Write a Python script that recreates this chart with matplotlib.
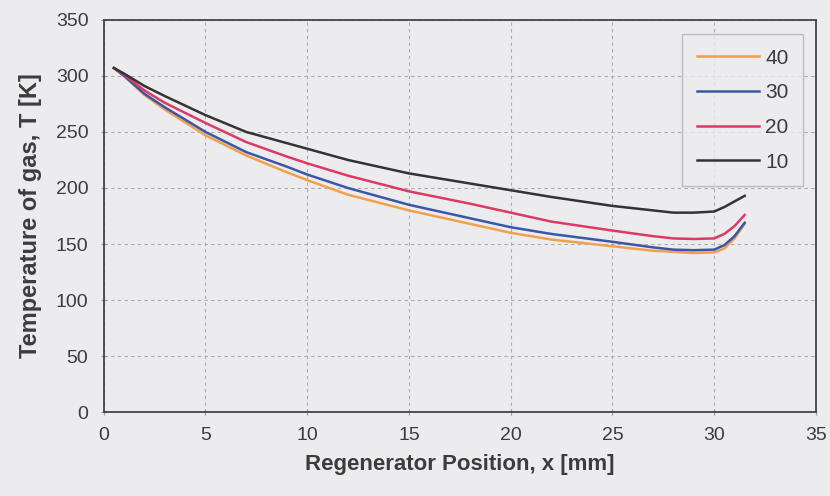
import matplotlib.pyplot as plt

# data
x_pos = [0.5, 1, 2, 3, 5, 7, 9, 10, 12, 15, 18, 20, 22, 25, 27, 28, 29, 30, 30.5, 31, 31.5]
t_40 = [307, 300, 283, 270, 247, 229, 214, 207, 194, 180, 168, 160, 154, 148, 144, 143, 142, 142.5, 146, 155, 168]
t_30 = [307, 300, 284, 272, 250, 232, 219, 212, 200, 185, 173, 165, 159, 152, 147, 145, 144.5, 145, 149, 157, 169]
t_20 = [307, 301, 287, 276, 258, 241, 228, 222, 211, 197, 186, 178, 170, 162, 157, 155, 154.5, 155, 159, 166, 176]
t_10 = [307, 302, 291, 282, 265, 250, 240, 235, 225, 213, 204, 198, 192, 184, 180, 178, 178, 179, 183, 188, 193]
labels = ['40', '30', '20', '10']
colors = ['#f2a04c', '#3a56a8', '#dc3a66', '#333333']

bg = '#ececef'
txt = '#3c3c3c'
plt.rcParams['font.family'] = ['Liberation Sans', 'DejaVu Sans']

fig = plt.figure(figsize=(8.3, 4.96), dpi=100, facecolor=bg)
ax = fig.add_axes([0.125, 0.169, 0.858, 0.791], facecolor=bg)

for y, lab, c in zip([t_40, t_30, t_20, t_10], labels, colors):
    ax.plot(x_pos, y, color=c, lw=1.8, label=lab)

ax.set_xlim(0, 35)
ax.set_ylim(0, 350)
ax.set_xticks(range(0, 36, 5))
ax.set_yticks(range(0, 351, 50))
ax.grid(True, color='#acacac', ls=(0, (3, 3)), lw=0.8)
ax.tick_params(labelsize=14, colors=txt, length=4, direction='inout', pad=9)
ax.tick_params(color='#999999')
for s in ax.spines.values():
    s.set_color('#444444')
    s.set_linewidth(1.3)

ax.set_xlabel('Regenerator Position, x [mm]', fontsize=16, fontweight='bold', color=txt, labelpad=7)
ax.set_ylabel('Temperature of gas, T [K]', fontsize=17, fontweight='bold', color=txt, labelpad=10)

leg = ax.legend(loc='upper right', fontsize=15, handlelength=3.0, handletextpad=0.3,
                labelspacing=0.75, frameon=True, fancybox=False, borderpad=0.7,
                bbox_to_anchor=(0.997, 0.99))
leg.get_frame().set_facecolor(bg)
leg.get_frame().set_edgecolor('#b0b0b0')
for t in leg.get_texts():
    t.set_color(txt)

fig.savefig('out.png', dpi=100, facecolor=bg)
